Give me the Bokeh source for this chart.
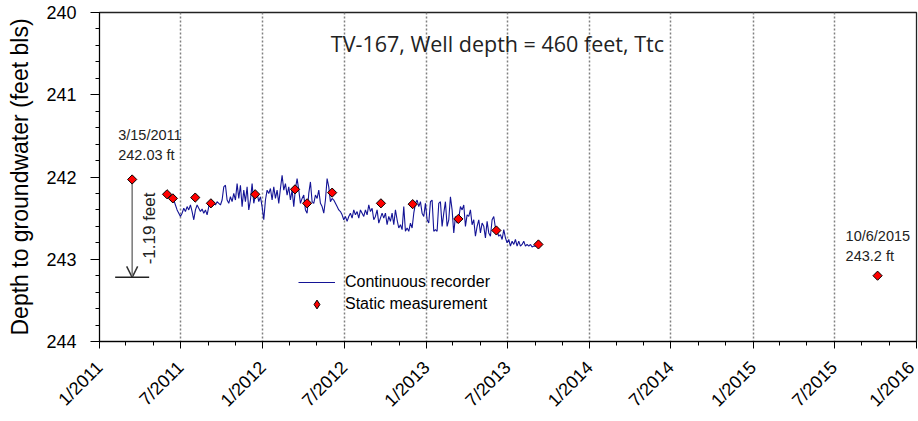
from math import pi
import pandas as pd
from bokeh.plotting import figure
from bokeh.models import (Range1d, FixedTicker, Legend, LegendItem, Label,
                          Arrow, OpenHead, TeeHead)
from bokeh.embed import file_html
from bokeh.resources import INLINE

# ---------------- data ----------------
title_text = "TV-167, Well depth = 460 feet, Ttc"
y_label = "Depth to groundwater (feet bls)"

# continuous recorder (values at a regular spacing)
recorder_start = "2011-06-16"
recorder_step_hours = 89.4
recorder_depth = [
    # Jun 2011 - Apr 2012
    242.28, 242.34, 242.40, 242.44, 242.48, 242.44, 242.38, 242.42, 242.36, 242.40,
    242.34, 242.42, 242.52, 242.40, 242.34, 242.38, 242.42, 242.39, 242.44, 242.40,
    242.46, 242.36, 242.32, 242.36, 242.32, 242.34, 242.30, 242.32, 242.34, 242.28,
    242.12, 242.10, 242.28, 242.32, 242.24, 242.30, 242.20, 242.28, 242.08, 242.26,
    242.10, 242.36, 242.16, 242.30, 242.12, 242.40, 242.28, 242.08, 242.32, 242.22,
    242.20, 242.30, 242.24, 242.36, 242.52, 242.28, 242.16, 242.20, 242.14, 242.28,
    242.12, 242.26, 242.16, 242.32, 242.14, 241.98, 242.16, 242.08, 242.22, 242.12,
    242.28, 242.16, 242.36, 242.14,
    # Apr 2012 - Dec 2012
    242.02, 242.16, 242.32, 242.26, 242.22, 242.40, 242.44, 242.20, 242.06, 242.30,
    242.32, 242.22, 242.26, 242.16, 242.32, 242.36, 242.44, 242.28, 242.02, 242.12,
    242.30, 242.26, 242.28, 242.32, 242.36, 242.40, 242.42, 242.46, 242.52, 242.48,
    242.54, 242.48, 242.44, 242.50, 242.40, 242.46, 242.42, 242.50, 242.40, 242.44,
    242.48, 242.40, 242.46, 242.34, 242.42, 242.38, 242.52, 242.48, 242.40, 242.56,
    242.50, 242.44, 242.50, 242.44, 242.58, 242.48, 242.54, 242.44, 242.58, 242.40,
    242.52, 242.62, 242.58, 242.64, 242.36, 242.66, 242.62, 242.66, 242.56, 242.62,
    242.44,
    # Dec 2012 - Sep 2013
    242.32, 242.28, 242.36, 242.30, 242.44, 242.48, 242.32, 242.52, 242.56, 242.30,
    242.28, 242.66, 242.64, 242.66, 242.32, 242.30, 242.60, 242.44, 242.30, 242.60,
    242.52, 242.24, 242.40, 242.68, 242.48, 242.56, 242.50, 242.36, 242.40, 242.34,
    242.60, 242.46, 242.48, 242.40, 242.58, 242.52, 242.72, 242.60, 242.52, 242.68,
    242.56, 242.60, 242.74, 242.54, 242.68, 242.72, 242.52, 242.48, 242.62, 242.66,
    242.72, 242.70, 242.76, 242.64, 242.74, 242.80, 242.76, 242.84, 242.78, 242.82,
    242.76, 242.84, 242.78, 242.84, 242.82, 242.78, 242.84, 242.82, 242.84, 242.82,
    242.85, 242.84, 242.84, 242.82,
]

# static measurements
static_dates = ["2011-03-15", "2011-06-01", "2011-06-14", "2011-08-03", "2011-09-07",
                "2011-12-15", "2012-03-13", "2012-04-09", "2012-06-04", "2012-09-21",
                "2012-12-01", "2013-03-13", "2013-06-06", "2013-09-08", "2015-10-06"]
static_depth = [242.03, 242.21, 242.26, 242.25, 242.32,
                242.21, 242.15, 242.32, 242.19, 242.32,
                242.33, 242.51, 242.65, 242.82, 243.2]

first_label = ["3/15/2011", "242.03 ft"]
last_label = ["10/6/2015", "243.2 ft"]
change_ft = 1.19
change_label = "-1.19 feet"

x_tick_dates = ["2011-01-01", "2011-07-01", "2012-01-01", "2012-07-01", "2013-01-01",
                "2013-07-01", "2014-01-01", "2014-07-01", "2015-01-01", "2015-07-01",
                "2016-01-01"]
x_tick_labels = ["1/2011", "7/2011", "1/2012", "7/2012", "1/2013", "7/2013",
                 "1/2014", "7/2014", "1/2015", "7/2015", "1/2016"]
x_minor_months = [3, 5, 9, 11]
x_minor_years = [2011, 2012, 2013, 2014, 2015]
y_ticks = [240, 241, 242, 243, 244]
y_minor_step = 0.2


def ms(d):
    return float(pd.Timestamp(d).value // 10**6)


rec_x = [ms(pd.Timestamp(recorder_start) + pd.Timedelta(hours=recorder_step_hours * i))
         for i in range(len(recorder_depth))]
st_x = [ms(d) for d in static_dates]
major_x = [ms(d) for d in x_tick_dates]
minor_x = sorted(ms(f"{y}-{m:02d}-01") for y in x_minor_years for m in x_minor_months)
minor_y = [round(t + y_minor_step * j, 1) for t in y_ticks[:-1] for j in range(1, 5)]

x0, x1 = major_x[0], major_x[-1]

# ---------------- figure ----------------
p = figure(width=918, height=420, output_backend="svg", toolbar_location=None,
           x_range=Range1d(x0, x1), y_range=Range1d(244, 240),
           min_border_left=99, min_border_right=2, min_border_top=12,
           min_border_bottom=78)
p.background_fill_color = "white"
p.border_fill_color = "white"
p.outline_line_color = "#222222"
p.outline_line_width = 1.3

# axes
ax = p.xaxis[0]
ax.ticker = FixedTicker(ticks=major_x, minor_ticks=minor_x)
ax.major_label_overrides = {int(v): lab for v, lab in zip(major_x, x_tick_labels)}
ax.major_label_orientation = pi / 4
ax.major_label_text_font = "Liberation Sans"
ax.major_label_text_font_size = "18px"
ax.major_label_text_color = "black"
ax.major_label_standoff = 16
ax.major_tick_out = 7
ax.major_tick_in = 0
ax.minor_tick_out = 4
ax.minor_tick_in = 0
ax.axis_line_color = "black"
ax.major_tick_line_color = "black"
ax.minor_tick_line_color = "black"

ay = p.yaxis[0]
ay.ticker = FixedTicker(ticks=y_ticks, minor_ticks=minor_y)
ay.major_label_text_font = "Liberation Sans"
ay.major_label_text_font_size = "18px"
ay.major_label_text_color = "black"
ay.major_label_standoff = 14
ay.major_tick_out = 9
ay.major_tick_in = 0
ay.minor_tick_out = 4
ay.minor_tick_in = 0
ay.axis_line_color = "black"
ay.major_tick_line_color = "black"
ay.minor_tick_line_color = "black"
ay.axis_label = y_label
ay.axis_label_text_font = "Liberation Sans"
ay.axis_label_text_font_size = "23px"
ay.axis_label_text_font_style = "normal"
ay.axis_label_text_color = "black"
ay.axis_label_standoff = 10

p.xgrid.ticker = FixedTicker(ticks=major_x[1:-1])
p.xgrid.grid_line_color = "#808080"
p.xgrid.grid_line_dash = "2 2"
p.xgrid.grid_line_width = 1.5
p.ygrid.visible = False

# glyphs
line_r = p.line(x=rec_x, y=recorder_depth, line_color="#141496", line_width=1.1)
pts_r = p.scatter(x=st_x, y=static_depth, marker="square", angle=pi / 4, size=6.5,
                  fill_color="#ff0000", line_color="black", line_width=1)
# legend-only glyph (same colours as the points, nothing drawn in the plot)
nan = float("nan")
leg_pts = p.scatter(x=[nan], y=[nan], marker="diamond", fill_color="#ff0000",
                    line_color="black", line_width=1)

# change arrow
arrow_end = static_depth[0] + change_ft
p.add_layout(Arrow(x_start=st_x[0], y_start=static_depth[0], x_end=st_x[0], y_end=arrow_end,
                   line_color="#777777", line_width=1.5, level="underlay",
                   end=OpenHead(size=11, line_color="#333333", line_width=1.5)))
p.add_layout(Arrow(x_start=st_x[0], y_start=static_depth[0], x_end=st_x[0], y_end=arrow_end,
                   line_alpha=0, level="underlay",
                   end=TeeHead(size=34, line_color="#222222", line_width=1.5)))

# labels
lab_font = "Liberation Sans"
for txt, yo in zip(first_label, [44.5, 24.5]):
    p.add_layout(Label(x=st_x[0], y=static_depth[0], text=txt, x_offset=-14, y_offset=yo,
                       text_font=lab_font, text_font_size="14.5px", text_baseline="middle",
                       text_color="#222222"))
for txt, yo in zip(last_label, [40, 20]):
    p.add_layout(Label(x=st_x[-1], y=static_depth[-1], text=txt, x_offset=-32, y_offset=yo,
                       text_font=lab_font, text_font_size="14.5px", text_baseline="middle",
                       text_color="#222222"))
p.add_layout(Label(x=st_x[0], y=(static_depth[0] + arrow_end) / 2, text=change_label,
                   angle=pi / 2, x_offset=17, text_align="center", text_baseline="middle",
                   text_font="Liberation Sans", text_font_size="17px", text_color="#222222"))

p.add_layout(Label(x=x0 + 0.487 * (x1 - x0), y=240.375, text=title_text,
                   text_align="center", text_baseline="middle",
                   text_font="Open Sans", text_font_size="21.5px", text_color="#222222"))

legend = Legend(items=[LegendItem(label="Continuous recorder", renderers=[line_r]),
                       LegendItem(label="Static measurement", renderers=[leg_pts])],
                location=(199, 26), border_line_color=None, background_fill_alpha=0,
                padding=0, margin=0, spacing=0, glyph_width=37, glyph_height=22,
                label_height=22, label_standoff=10, label_text_font="Liberation Sans",
                label_text_font_size="16px", label_text_color="black")
p.add_layout(legend)

open("out.html", "w").write(file_html(p, INLINE))
